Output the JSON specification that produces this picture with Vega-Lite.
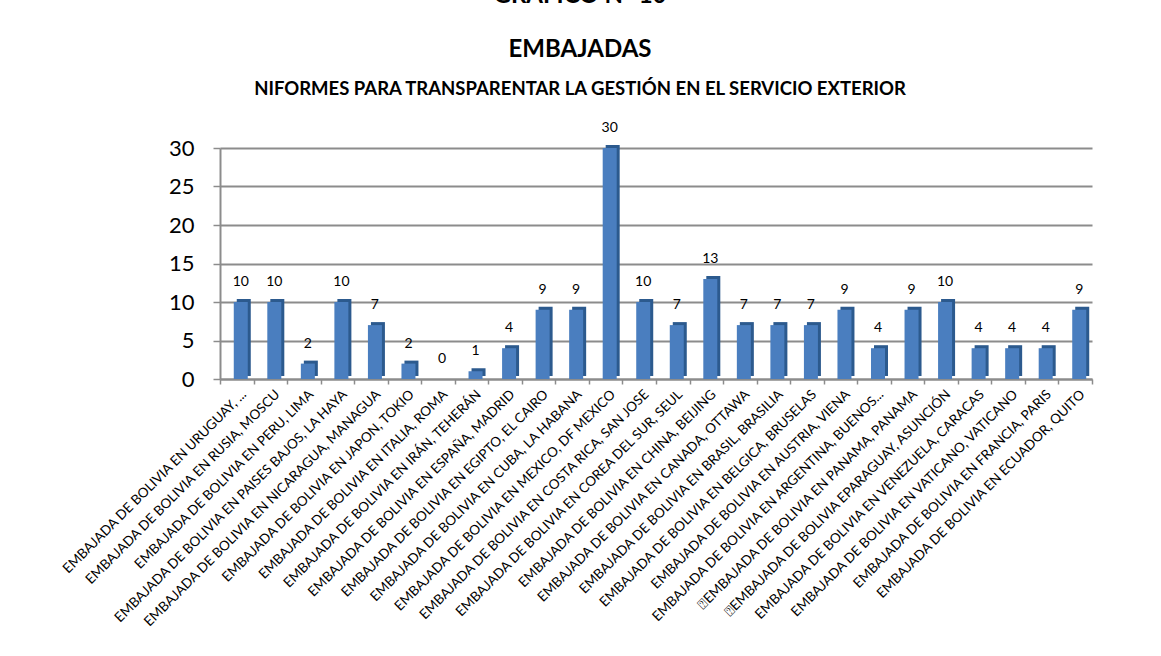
{
  "$schema": "https://vega.github.io/schema/vega-lite/v6.json",
  "width": 872,
  "height": 231,
  "autosize": {"type": "none"},
  "padding": {"left": 220, "top": 148, "right": 69, "bottom": 277},
  "background": "white",
  "title": {
    "text": ["GRÁFICO N° 10", "EMBAJADAS"],
    "subtitle": "NIFORMES PARA TRANSPARENTAR LA GESTIÓN EN EL SERVICIO EXTERIOR",
    "anchor": "middle",
    "frame": "group",
    "dx": -76,
    "offset": 23,
    "font": "Lato",
    "fontSize": 24,
    "fontWeight": "bold",
    "lineHeight": 54,
    "color": "black",
    "subtitleFont": "Lato",
    "subtitleFontSize": 18.5,
    "subtitleFontWeight": "bold",
    "subtitleColor": "black",
    "subtitlePadding": 18
  },
  "data": {
    "values": [
      {"embajada": "EMBAJADA DE BOLIVIA EN URUGUAY, ...", "informes": 10},
      {"embajada": "EMBAJADA DE BOLIVIA EN RUSIA, MOSCU", "informes": 10},
      {"embajada": "EMBAJADA DE BOLIVIA EN PERU, LIMA", "informes": 2},
      {"embajada": "EMBAJADA DE BOLIVIA EN PAISES BAJOS, LA HAYA", "informes": 10},
      {"embajada": "EMBAJADA DE BOLIVIA EN NICARAGUA, MANAGUA", "informes": 7},
      {"embajada": "EMBAJADA DE BOLIVIA EN JAPON, TOKIO", "informes": 2},
      {"embajada": "EMBAJADA DE BOLIVIA EN ITALIA, ROMA", "informes": 0},
      {"embajada": "EMBAJADA DE BOLIVIA EN IRÁN, TEHERÁN", "informes": 1},
      {"embajada": "EMBAJADA DE BOLIVIA EN ESPAÑA, MADRID", "informes": 4},
      {"embajada": "EMBAJADA DE BOLIVIA EN EGIPTO, EL CAIRO", "informes": 9},
      {"embajada": "EMBAJADA DE BOLIVIA EN CUBA, LA HABANA", "informes": 9},
      {"embajada": "EMBAJADA DE BOLIVIA EN MEXICO, DF MEXICO", "informes": 30},
      {"embajada": "EMBAJADA DE BOLIVIA EN COSTA RICA, SAN JOSE", "informes": 10},
      {"embajada": "EMBAJADA DE BOLIVIA EN COREA DEL SUR, SEUL", "informes": 7},
      {"embajada": "EMBAJADA DE BOLIVIA EN CHINA, BEIJING", "informes": 13},
      {"embajada": "EMBAJADA DE BOLIVIA EN CANADA, OTTAWA", "informes": 7},
      {"embajada": "EMBAJADA DE BOLIVIA EN BRASIL, BRASILIA", "informes": 7},
      {"embajada": "EMBAJADA DE BOLIVIA EN BELGICA, BRUSELAS", "informes": 7},
      {"embajada": "EMBAJADA DE BOLIVIA EN AUSTRIA, VIENA", "informes": 9},
      {"embajada": "EMBAJADA DE BOLIVIA EN ARGENTINA, BUENOS...", "informes": 4},
      {"embajada": "⍰EMBAJADA DE BOLIVIA EN PANAMA, PANAMA", "informes": 9},
      {"embajada": "⍰EMBAJADA DE BOLIVIA EPARAGUAY, ASUNCIÓN", "informes": 10},
      {"embajada": "EMBAJADA DE BOLIVIA EN VENEZUELA, CARACAS", "informes": 4},
      {"embajada": "EMBAJADA DE BOLIVIA EN VATICANO, VATICANO", "informes": 4},
      {"embajada": "EMBAJADA DE BOLIVIA EN FRANCIA, PARIS", "informes": 4},
      {"embajada": "EMBAJADA DE BOLIVIA EN ECUADOR, QUITO", "informes": 9}
    ]
  },
  "encoding": {
    "x": {
      "field": "embajada",
      "type": "nominal",
      "sort": null,
      "scale": {"paddingInner": 0, "paddingOuter": 0},
      "axis": {
        "title": null,
        "labelAngle": -45,
        "labelAlign": "right",
        "labelBaseline": "middle",
        "labelFont": "Lato",
        "labelFontSize": 13.5,
        "labelColor": "black",
        "labelLimit": 0,
        "labelPadding": 8,
        "labelOffset": 7,
        "labelOverlap": false,
        "tickBand": "extent",
        "tickColor": "#8c8c8c",
        "tickSize": 5,
        "tickWidth": 1.5,
        "domainColor": "#8c8c8c",
        "domainWidth": 2
      }
    },
    "y": {
      "field": "informes",
      "type": "quantitative",
      "scale": {"domain": [0, 30], "nice": false},
      "axis": {
        "title": null,
        "values": [0, 5, 10, 15, 20, 25, 30],
        "labelFont": "Lato",
        "labelFontSize": 22,
        "labelColor": "black",
        "labelPadding": 19,
        "tickColor": "#8c8c8c",
        "tickSize": 7,
        "tickWidth": 1.5,
        "domainColor": "#8c8c8c",
        "domainWidth": 2,
        "grid": true,
        "gridColor": "#8c8c8c",
        "gridWidth": 2
      }
    }
  },
  "layer": [
    {
      "mark": {"type": "bar", "size": 14, "color": "#2c5a8e", "xOffset": 7, "yOffset": -3, "y2Offset": -3}
    },
    {
      "mark": {"type": "bar", "size": 14, "color": "#4a7ebf", "xOffset": 4}
    },
    {
      "mark": {"type": "text", "font": "Lato", "fontSize": 14, "color": "black", "dy": -20, "xOffset": 4, "baseline": "middle"},
      "encoding": {"text": {"field": "informes", "type": "quantitative"}}
    }
  ],
  "config": {"view": {"stroke": null}}
}
